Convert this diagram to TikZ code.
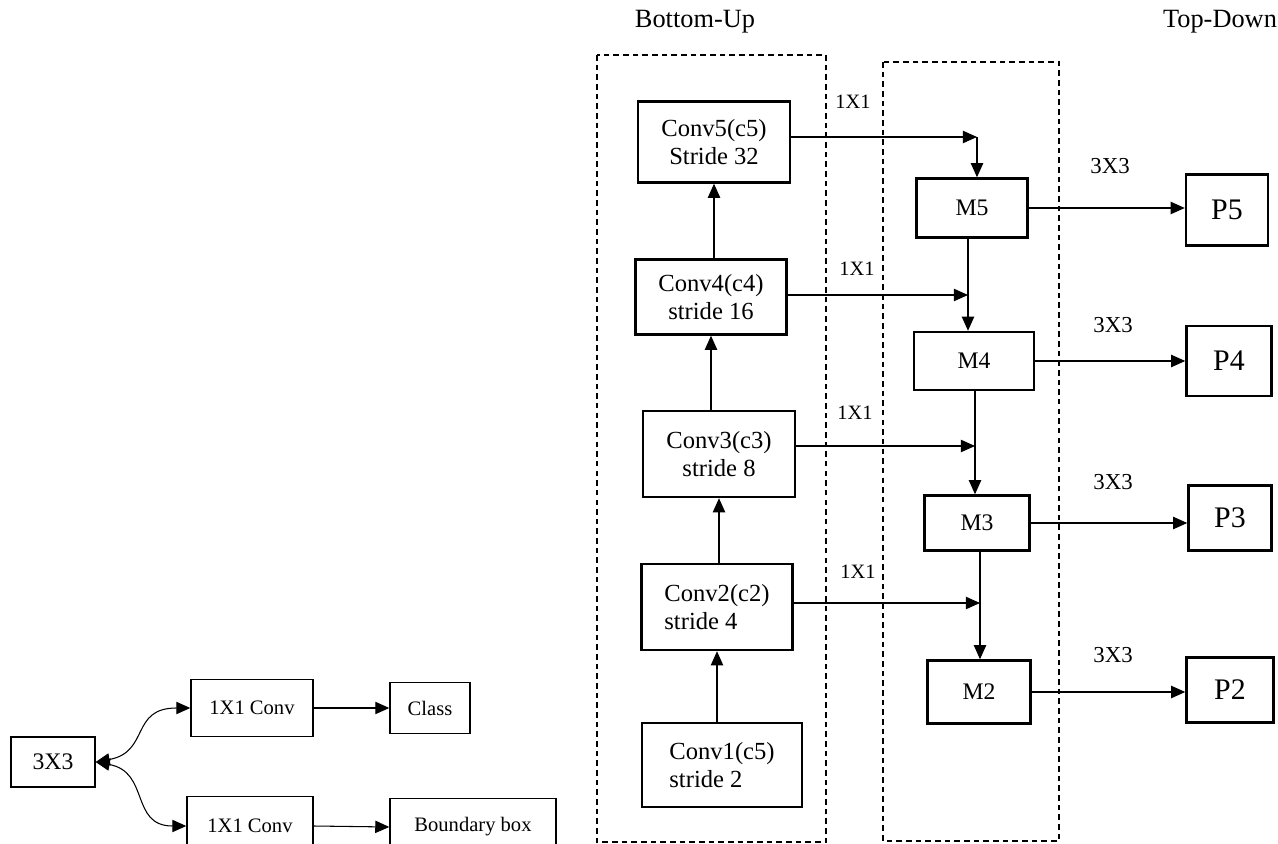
\documentclass[tikz,border=0pt]{standalone}
\usepackage{fontspec}
\setmainfont{Liberation Serif}
\usetikzlibrary{arrows.meta, positioning}

\begin{document}
\begin{tikzpicture}[x=0.02cm, y=-0.02cm,
  blk/.style={rectangle, draw, line width=1.4pt, align=center, inner sep=2pt},
  conv/.style={blk, font=\fontsize{14}{15.5}\selectfont},
  mrg/.style={blk, font=\fontsize{13.5}{15}\selectfont},
  pbox/.style={blk, font=\fontsize{17}{19}\selectfont},
  hbox/.style={blk, line width=0.8pt, font=\fontsize{11.7}{13}\selectfont},
  lbl/.style={font=\fontsize{11.6}{13}\selectfont},
  klbl/.style={font=\fontsize{13}{15}\selectfont},
  arr/.style={-{Triangle[length=8pt,width=7pt]}, line width=0.6pt},
  biarr/.style={{Triangle[length=8pt,width=7pt]}-{Triangle[length=8pt,width=7pt]}, line width=0.6pt},
  grp/.style={dash pattern=on 3.2pt off 2.3pt, line width=1.3pt}]
\useasboundingbox (0,0) rectangle (1278,844);

% headings
\node[font=\fontsize{15}{17}\selectfont] (bu) at (695,22) {Bottom-Up};
\node[font=\fontsize{15}{17}\selectfont] (td) at (1220,22) {Top-Down};

% dashed groups
\draw[grp] (597,55) rectangle (826,842);
\draw[grp] (883,62) rectangle (1059,841);

% bottom-up path
\node[conv, minimum width=3.04cm, minimum height=1.62cm] (c5) at (714,142) {Conv5(c5)\\Stride 32};
\node[conv, minimum width=3.02cm, minimum height=1.5cm] (c4) at (711,297) {Conv4(c4)\\stride 16};
\node[conv, minimum width=3.04cm, minimum height=1.72cm] (c3) at (719,454) {Conv3(c3)\\stride 8};
\node[conv, align=left, minimum width=3.02cm, minimum height=1.72cm] (c2) at (717,607) {Conv2(c2)\\stride 4};
\node[conv, align=left, minimum width=3.2cm, minimum height=1.68cm] (c1) at (722,765) {Conv1(c5)\\stride 2};

% top-down path
\node[mrg, minimum width=2.22cm, minimum height=1.18cm] (m5) at (972,208) {M5};
\node[mrg, minimum width=2.4cm, minimum height=1.16cm] (m4) at (974,361) {M4};
\node[mrg, minimum width=2.1cm, minimum height=1.1cm] (m3) at (977,523) {M3};
\node[mrg, minimum width=2.06cm, minimum height=1.26cm] (m2) at (979,692) {M2};

% outputs
\node[pbox, minimum width=1.64cm, minimum height=1.42cm] (p5) at (1227,210) {P5};
\node[pbox, minimum width=1.7cm, minimum height=1.4cm] (p4) at (1229,361) {P4};
\node[pbox, minimum width=1.66cm, minimum height=1.3cm] (p3) at (1230,518) {P3};
\node[pbox, minimum width=1.74cm, minimum height=1.3cm] (p2) at (1230,690) {P2};

% head
\node[hbox, font=\fontsize{13.5}{15}\selectfont, minimum width=1.68cm, minimum height=1cm] (k3) at (53,762) {3X3};
\node[hbox, minimum width=2.44cm, minimum height=1.14cm] (cu) at (252,708) {1X1 Conv};
\node[hbox, minimum width=1.6cm, minimum height=1.02cm] (cls) at (430,708) {Class};
\node[hbox, minimum width=2.52cm, minimum height=1.18cm] (cb) at (250,826) {1X1 Conv};
\node[hbox, minimum width=3.32cm, minimum height=1.14cm] (bb) at (473,827) {Boundary box};

% lateral labels
\node[lbl] (l5) at (853,102) {1X1};
\node[lbl] (l4) at (857,269) {1X1};
\node[lbl] (l3) at (855,413) {1X1};
\node[lbl] (l2) at (858,572) {1X1};
\node[klbl] (k5) at (1110,166) {3X3};
\node[klbl] (k4) at (1113,325) {3X3};
\node[klbl] (kk3) at (1113,482) {3X3};
\node[klbl] (k2) at (1113,655) {3X3};

% junctions
\coordinate (j5) at (977,137);
\coordinate (j4) at (968,295);
\coordinate (j3) at (975,446);
\coordinate (j2) at (980,603);

\draw[arr] (c2.south |- c1.north) -- (c2.south);
\draw[arr] (c3.south |- c2.north) -- (c3.south);
\draw[arr] (c4.south |- c3.north) -- (c4.south);
\draw[arr] (c5.south |- c4.north) -- (c5.south);

\draw[arr] (c5.east |- j5) -- (j5);
\draw[arr] (c4.east |- j4) -- (j4);
\draw[arr] (c3.east |- j3) -- (j3);
\draw[arr] (c2.east |- j2) -- (j2);
\draw[arr] (j5) -- (j5 |- m5.north);
\draw[arr] (j4 |- m5.south) -- (j4 |- m4.north);
\draw[arr] (j3 |- m4.south) -- (j3 |- m3.north);
\draw[arr] (j2 |- m3.south) -- (j2 |- m2.north);

\draw[arr] (m5.east) -- (m5.east -| p5.west);
\draw[arr] (m4.east) -- (m4.east -| p4.west);
\draw[arr] (m3.east) -- (m3.east -| p3.west);
\draw[arr] (m2.east) -- (m2.east -| p2.west);

\draw[biarr] (k3.east) .. controls (150,752) and (130,708) .. (cu.west);
\draw[biarr] (k3.east) .. controls (150,772) and (130,826) .. (cb.west);
\draw[arr] (cu.east) -- (cls.west);
\draw[arr] (cb.east) -- (bb.west);
\end{tikzpicture}
\end{document}
